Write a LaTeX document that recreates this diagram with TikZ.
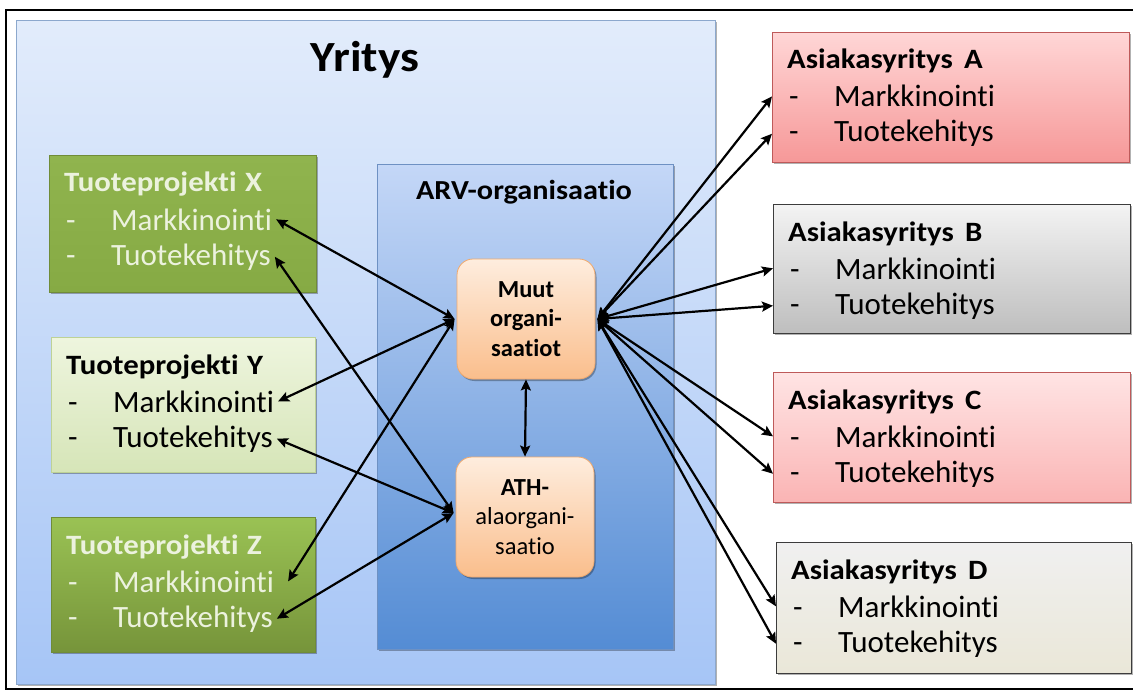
\documentclass[tikz,border=0pt]{standalone}
\usepackage{fontspec}
\setmainfont{Carlito}[Ligatures=NoCommon]
\newfontfamily\headfont{Carlito}[Ligatures=NoCommon, FakeStretch=1.1]
\usetikzlibrary{arrows.meta,shadows}

\definecolor{frameblue}{RGB}{140,168,205}
\definecolor{yrtop}{RGB}{226,236,251}
\definecolor{yrbot}{RGB}{166,197,246}
\definecolor{arvtop}{RGB}{196,215,247}
\definecolor{arvbot}{RGB}{84,140,212}
\definecolor{arvline}{RGB}{110,145,195}
\definecolor{orgtop}{RGB}{254,237,222}
\definecolor{orgbot}{RGB}{250,190,140}
\definecolor{orgline}{RGB}{240,170,110}
\definecolor{gxtop}{RGB}{144,180,78}
\definecolor{gxbot}{RGB}{134,170,68}
\definecolor{gline}{RGB}{112,140,56}
\definecolor{gytop}{RGB}{238,245,222}
\definecolor{gybot}{RGB}{214,229,184}
\definecolor{gyline}{RGB}{190,210,150}
\definecolor{gztop}{RGB}{154,194,84}
\definecolor{gzbot}{RGB}{118,148,58}
\definecolor{lighttext}{RGB}{236,242,222}
\definecolor{redtopA}{RGB}{255,214,214}
\definecolor{redbotA}{RGB}{246,152,152}
\definecolor{redtopC}{RGB}{255,228,228}
\definecolor{redbotC}{RGB}{250,180,180}
\definecolor{redline}{RGB}{190,90,90}
\definecolor{greytop}{RGB}{243,243,243}
\definecolor{greybot}{RGB}{190,190,190}
\definecolor{beigetop}{RGB}{240,240,240}
\definecolor{beigebot}{RGB}{234,231,216}
\definecolor{darkline}{RGB}{60,60,60}

\tikzset{
  shade/.style={drop shadow={shadow xshift=1.5pt, shadow yshift=-2pt, opacity=0.3, fill=black}},
  boxX/.style={draw=gline, line width=0.8pt, top color=gxtop, bottom color=gxbot, shade},
  boxY/.style={draw=gyline, line width=0.8pt, top color=gytop, bottom color=gybot, shade},
  boxZ/.style={draw=gline, line width=0.8pt, top color=gztop, bottom color=gzbot, shade},
  boxA/.style={draw=redline, line width=0.8pt, top color=redtopA, bottom color=redbotA, shade},
  boxB/.style={draw=darkline, line width=0.8pt, top color=greytop, bottom color=greybot, shade},
  boxC/.style={draw=redline, line width=0.8pt, top color=redtopC, bottom color=redbotC, shade},
  boxD/.style={draw=darkline, line width=0.8pt, top color=beigetop, bottom color=beigebot, shade},
  orgbox/.style={draw=orgline, line width=0.8pt, rounded corners=16pt, top color=orgtop,
    bottom color=orgbot, align=center, minimum width=138pt, minimum height=120pt,
    font=\fontsize{24.5}{29.5}\selectfont, shade},
  ttl/.style={anchor=base west, inner sep=0pt, font=\headfont\fontsize{28}{32}\selectfont\bfseries},
  dsh/.style={anchor=base west, inner sep=0pt, font=\fontsize{31}{36}\selectfont},
  itm/.style={anchor=base west, inner xsep=4pt, inner ysep=0pt, font=\fontsize{31}{36}\selectfont},
  conn/.style={line width=2.2pt, {Stealth[length=11pt,width=10pt,inset=2pt]}-{Stealth[length=11pt,width=10pt,inset=2pt]}},
}

\begin{document}
\begin{tikzpicture}[x=1pt,y=-1pt]
\useasboundingbox (0,0) rectangle (1133,690);
\clip (0,0) rectangle (1133,690);
\fill[white] (0,0) rectangle (1133,690);
\draw[line width=1.5pt] (6,10) rectangle (1150,689);

% company frame
\node[draw=frameblue, line width=0.8pt, top color=yrtop, bottom color=yrbot, shade,
      minimum width=699pt, minimum height=664pt, anchor=north west, inner sep=0pt] (yritys) at (16,20) {};
\node[anchor=base, font=\headfont\fontsize{43}{48}\selectfont\bfseries] (yritys-t) at (365,72) {Yritys};

% ARV organisation
\node[draw=arvline, line width=0.8pt, top color=arvtop, bottom color=arvbot, shade,
      minimum width=296pt, minimum height=485pt, anchor=north west, inner sep=0pt] (arv) at (377,164) {};
\node[anchor=base, font=\headfont\fontsize{27.5}{30}\selectfont\bfseries] (arv-t) at (524,200) {ARV-organisaatio};

\node[orgbox] (muut) at (526,319) {\textbf{Muut}\\\textbf{organi-}\\\textbf{saatiot}};
\node[orgbox] (ath) at (525,517) {\textbf{ATH-}\\alaorgani-\\saatio};

% project and customer boxes
\foreach \n/\x/\y/\w/\h/\s/\c/\lbl in {
  px/49/155/267/137/boxX/lighttext/{Tuoteprojekti\hspace{.3em}X},
  py/51/337/264/135/boxY/black/{Tuoteprojekti\hspace{.3em}Y},
  pz/51/517/264/135/boxZ/lighttext/{Tuoteprojekti\hspace{.3em}Z},
  ca/772/32/357/130/boxA/black/{Asiakasyritys\hspace{.4em}A},
  cb/773/204/357/129/boxB/black/{Asiakasyritys\hspace{.4em}B},
  cc/773/372/357/130/boxC/black/{Asiakasyritys\hspace{.4em}C},
  cd/776/542/355/131/boxD/black/{Asiakasyritys\hspace{.4em}D}}
{
  \node[\s, minimum width=\w pt, minimum height=\h pt, anchor=north west, inner sep=0pt] (\n) at (\x,\y) {};
  \node[ttl, text=\c] (\n-t) at ([shift={(15pt,-37pt)}]\n.north west) {\lbl};
  \node[dsh, text=\c] (\n-d1) at ([shift={(17pt,-75pt)}]\n.north west) {-};
  \node[itm, text=\c] (\n-m) at ([shift={(58pt,-75pt)}]\n.north west) {Markkinointi};
  \node[dsh, text=\c] (\n-d2) at ([shift={(17pt,-110pt)}]\n.north west) {-};
  \node[itm, text=\c] (\n-k) at ([shift={(58pt,-110pt)}]\n.north west) {Tuotekehitys};
}

% links to the projects
\draw[conn] ([xshift=-2pt]muut.west) -- (px-m.east);
\draw[conn] ([xshift=-2pt]muut.west) -- (py-m.east);
\draw[conn] ([xshift=-2pt]muut.west) -- ([xshift=10pt]pz-m.east);
\draw[conn] ([shift={(-2pt,4pt)}]ath.west) -- (px-k.east);
\draw[conn] ([shift={(-2pt,4pt)}]ath.west) -- (py-k.east);
\draw[conn] ([shift={(-2pt,4pt)}]ath.west) -- (pz-k.east);
\draw[conn] (muut.south) -- (ath.north);

% links to the customers
\foreach \q in {ca,cb,cc,cd} {
  \draw[conn] ([xshift=2pt]muut.east) -- (\q.west |- \q-m);
  \draw[conn] ([xshift=2pt]muut.east) -- (\q.west |- \q-k);
}
\end{tikzpicture}
\end{document}
